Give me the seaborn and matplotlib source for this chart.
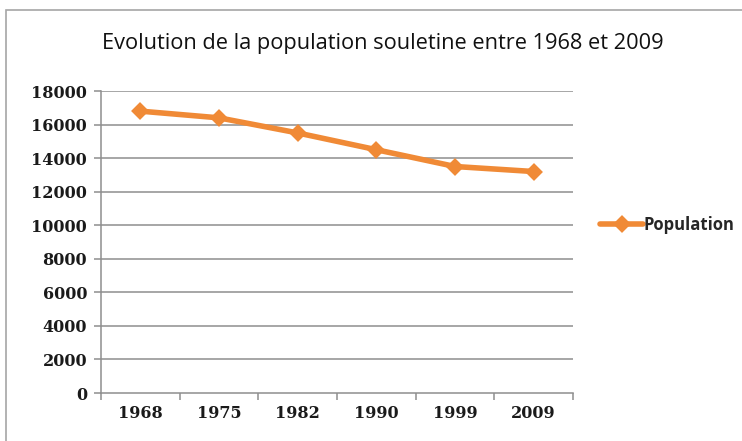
import matplotlib
matplotlib.use("Agg")
import matplotlib.pyplot as plt
from matplotlib.patches import Rectangle
from matplotlib.ticker import FixedLocator
import seaborn as sns
import pandas as pd

# Census years and population of the Soule
years = ["1968", "1975", "1982", "1990", "1999", "2009"]
population = [16800, 16400, 15500, 14500, 13500, 13200]
y_ticks = [0, 2000, 4000, 6000, 8000, 10000, 12000, 14000, 16000, 18000]

title = "Evolution de la population souletine entre 1968 et 2009"
series_name = "Population"

orange = "#F08A36"
grid_grey = "#8E8E8E"

sns.set_theme(style="white")
plt.rcParams["font.family"] = ["DejaVu Sans"]

df = pd.DataFrame({"year": years, series_name: population})

fig = plt.figure(figsize=(7.42, 4.41), dpi=100)
ax = fig.add_axes([101 / 742, 1 - 393 / 441, 472 / 742, 302 / 441])

sns.pointplot(data=df, x="year", y=series_name, ax=ax, color=orange,
              markers="D", markersize=6.5, linewidth=4.0, label=series_name,
              errorbar=None)

ax.set_ylim(0, 18000)
ax.set_xlim(-0.5, len(years) - 0.5)
ax.set_yticks(y_ticks)
ax.set_yticklabels([str(v) for v in y_ticks])
ax.set_xlabel("")
ax.set_ylabel("")

# horizontal gridlines only
ax.grid(False)
for v in y_ticks[1:]:
    ax.axhline(v, color=grid_grey, lw=1.1, zorder=0)

for side in ["top", "right"]:
    ax.spines[side].set_visible(False)
for side in ["left", "bottom"]:
    ax.spines[side].set_color(grid_grey)
    ax.spines[side].set_linewidth(1.1)

# category ticks sit between the categories
ax.tick_params(axis="x", which="major", length=0, pad=9)
ax.xaxis.set_minor_locator(FixedLocator([i - 0.5 for i in range(len(years) + 1)]))
ax.tick_params(axis="x", which="minor", length=5, color=grid_grey, width=1.1,
               direction="out", bottom=True)
ax.tick_params(axis="y", length=5, color=grid_grey, width=1.1, direction="out",
               left=True, pad=5)
for lab in ax.get_xticklabels() + ax.get_yticklabels():
    lab.set_fontfamily("DejaVu Serif")
    lab.set_fontweight("bold")
    lab.set_fontsize(11.5)
    lab.set_color("#1a1a1a")

fig.text(383 / 742, 1 - 43 / 441, title, ha="center", va="center",
         fontsize=15.7, family="Open Sans", color="#111111")

if ax.get_legend() is not None:
    ax.get_legend().remove()
handles, labels = ax.get_legend_handles_labels()
leg = fig.legend(handles[:1], [series_name], loc="center left",
                 bbox_to_anchor=(600 / 742, 1 - 225 / 441), frameon=False,
                 handlelength=2.6, handletextpad=0.0, borderaxespad=0,
                 borderpad=0,
                 prop={"family": "Open Sans", "weight": "bold", "size": 12.0})

# chart-area border
fig.add_artist(Rectangle((6 / 742, -0.05), 1.0, 1 - 10 / 441 + 0.05,
                         transform=fig.transFigure, fill=False,
                         edgecolor="#A6A6A6", lw=1.2))

fig.savefig("out.png", dpi=100)
